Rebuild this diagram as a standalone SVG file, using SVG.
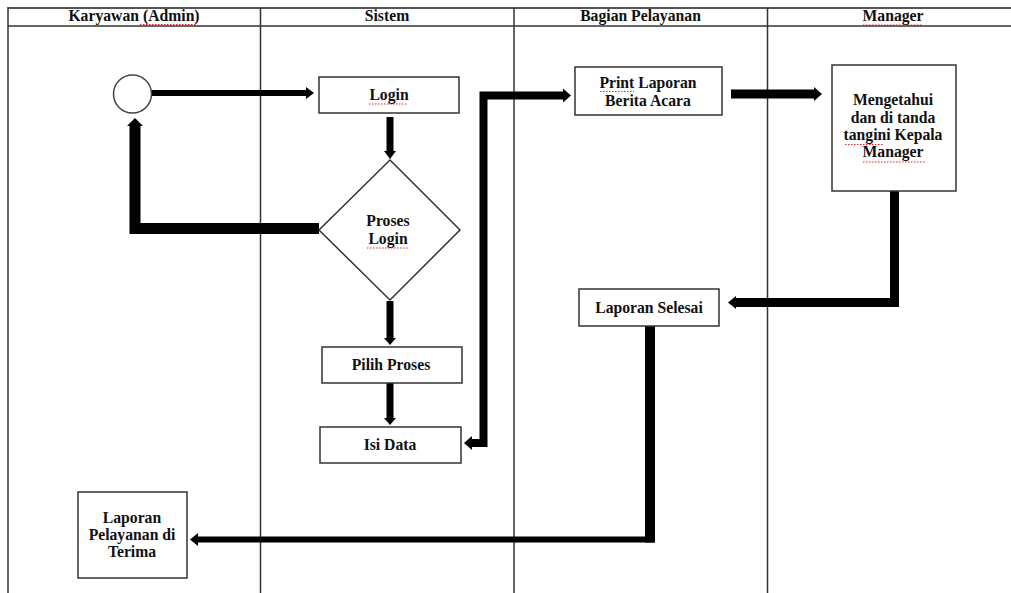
<svg xmlns="http://www.w3.org/2000/svg" width="1011" height="593" viewBox="0 0 1011 593">
<style>
.bg{fill:#fff}
.grid{stroke:#333;stroke-width:1.5;fill:none}
.box{fill:#fff;stroke:#333;stroke-width:1.5}
.t{font-family:"Liberation Serif","Times New Roman",serif;font-weight:bold;font-size:15.7px;fill:#111;text-anchor:middle}
.c{fill:none;stroke:#000;stroke-linejoin:miter;stroke-linecap:butt}
.head{fill:#000}
.sq{stroke:#d22;stroke-width:1.2;stroke-dasharray:1.5 1.5;fill:none}
</style>
<rect class="bg" x="0" y="0" width="1011" height="593"/>
<g id="lanes">
  <line class="grid" x1="8" y1="8" x2="1011" y2="8" style="stroke:#555;stroke-width:2"/>
  <line class="grid" x1="8" y1="26" x2="1011" y2="26"/>
  <line class="grid" x1="8" y1="7" x2="8" y2="593"/>
  <line class="grid" x1="260.5" y1="8" x2="260.5" y2="593"/>
  <line class="grid" x1="514" y1="8" x2="514" y2="593"/>
  <line class="grid" x1="767.5" y1="8" x2="767.5" y2="593"/>
  <text class="t" x="134" y="21">Karyawan (Admin)</text>
  <text class="t" x="387" y="21">Sistem</text>
  <text class="t" x="640.5" y="21">Bagian Pelayanan</text>
  <text class="t" x="893" y="21">Manager</text>
  <line class="sq" x1="140" y1="24.5" x2="196" y2="24.5"/>
  <line class="sq" x1="863" y1="25" x2="923" y2="25"/>
</g>
<g id="connectors">
  <line class="c" x1="152" y1="93" x2="307" y2="93" stroke-width="6"/>
  <polygon class="head" points="306,87 314,93 306,99"/>
  <line class="c" x1="390" y1="117" x2="390" y2="152" stroke-width="7"/>
  <polygon class="head" points="384,151 390,159 396,151"/>
  <path class="c" d="M319,228.5 H135 V125" stroke-width="11"/>
  <polygon class="head" points="127,126 135,118 143,126"/>
  <line class="c" x1="390" y1="301" x2="390" y2="339" stroke-width="7"/>
  <polygon class="head" points="384,338 390,345 396,338"/>
  <line class="c" x1="390" y1="383" x2="390" y2="419" stroke-width="7"/>
  <polygon class="head" points="384,418 390,425 396,418"/>
  <path class="c" d="M471,443 H483.5 V95.5 H564" stroke-width="8"/>
  <polygon class="head" points="472,436 464,443 472,450"/>
  <polygon class="head" points="563,88.5 571,95.5 563,102.5"/>
  <line class="c" x1="731" y1="94" x2="815" y2="94" stroke-width="9"/>
  <polygon class="head" points="814,87 822,94 814,101"/>
  <path class="c" d="M894.5,191 V302.5 H735" stroke-width="9"/>
  <polygon class="head" points="736,296 728,302.5 736,309"/>
  <line class="c" x1="650" y1="326" x2="650" y2="542.5" stroke-width="10"/>
  <line class="c" x1="655" y1="539.5" x2="197" y2="539.5" stroke-width="6"/>
  <polygon class="head" points="198,533 190,539.5 198,546"/>
</g>
<g id="start">
  <circle cx="132.5" cy="94" r="19" fill="#fff" stroke="#444" stroke-width="1.5"/>
</g>
<g id="login">
  <rect class="box" x="319" y="77" width="140" height="36"/>
  <text class="t" x="389" y="100">Login</text>
  <line class="sq" x1="369" y1="104" x2="408" y2="104"/>
</g>
<g id="proses-login">
  <polygon class="box" points="390,160 460,230 390,300 319,230"/>
  <text class="t" x="388" y="226">Proses</text>
  <text class="t" x="388" y="244">Login</text>
  <line class="sq" x1="367" y1="248" x2="408" y2="248"/>
</g>
<g id="pilih-proses">
  <rect class="box" x="322" y="347" width="140" height="36"/>
  <text class="t" x="391" y="370">Pilih Proses</text>
</g>
<g id="isi-data">
  <rect class="box" x="320" y="427" width="141" height="36"/>
  <text class="t" x="390" y="450">Isi Data</text>
</g>
<g id="print-laporan">
  <rect class="box" x="575" y="67" width="147" height="48"/>
  <text class="t" x="648" y="88">Print Laporan</text>
  <text class="t" x="648" y="106">Berita Acara</text>
  <line class="sq" x1="600" y1="91.5" x2="634" y2="91.5"/>
</g>
<g id="mengetahui">
  <rect class="box" x="832" y="65" width="124" height="126"/>
  <text class="t" x="893" y="105">Mengetahui</text>
  <text class="t" x="893" y="122.5">dan di tanda</text>
  <text class="t" x="893" y="140">tangini Kepala</text>
  <text class="t" x="893" y="157">Manager</text>
  <line class="sq" x1="845" y1="144.5" x2="884" y2="144.5"/>
  <line class="sq" x1="863" y1="162" x2="925" y2="162"/>
</g>
<g id="laporan-selesai">
  <rect class="box" x="579" y="289" width="140" height="37"/>
  <text class="t" x="649" y="313">Laporan Selesai</text>
</g>
<g id="laporan-diterima">
  <rect class="box" x="78" y="492" width="109" height="86"/>
  <text class="t" x="132" y="523">Laporan</text>
  <text class="t" x="132" y="540">Pelayanan di</text>
  <text class="t" x="132" y="557">Terima</text>
</g>
</svg>
